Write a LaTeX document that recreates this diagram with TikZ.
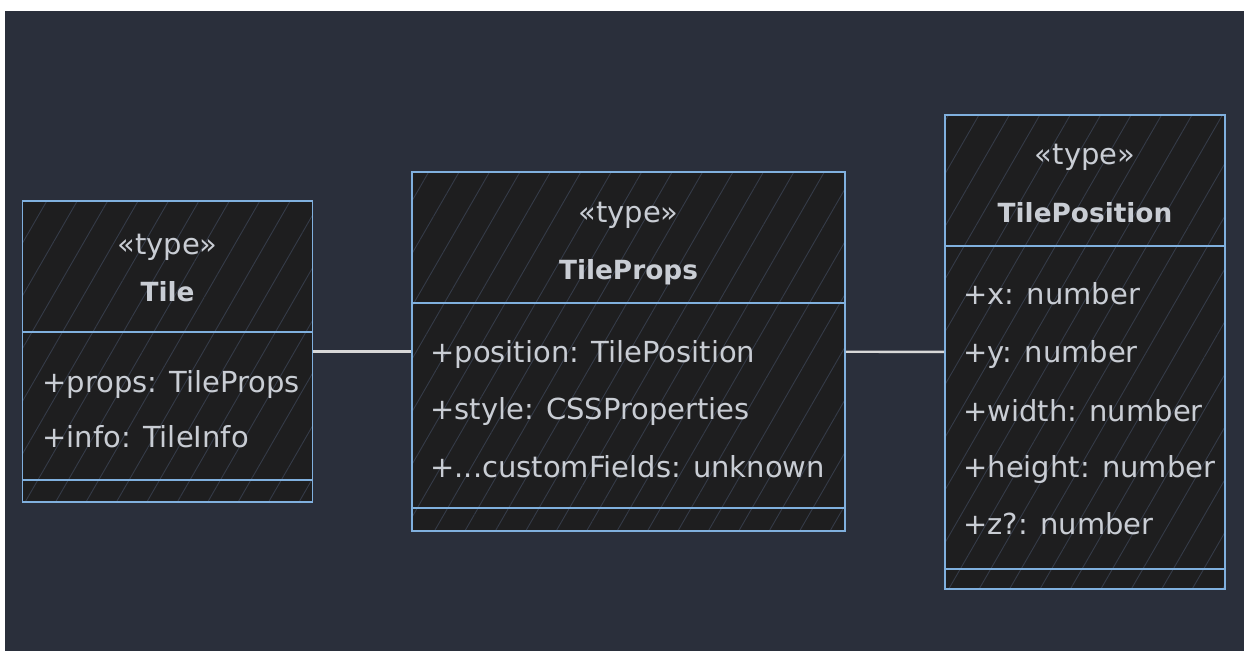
\documentclass[tikz,border=0pt]{standalone}
\usepackage{fontspec}
\setmainfont{DejaVu Sans}
\usepackage{xcolor}
\definecolor{cBg}{HTML}{2A2F3B}
\definecolor{cBox}{HTML}{1E1E1F}
\definecolor{cLine}{HTML}{80B0DE}
\definecolor{cText}{HTML}{C9CDD4}
\definecolor{cHatch}{HTML}{353B48}
\definecolor{cLink}{HTML}{D8D8D8}
\usetikzlibrary{positioning,patterns.meta,calc}
\tikzset{
  class-box/.style={draw=cLine,line width=1.1pt,inner sep=0pt,
    preaction={fill=cBox},
    pattern={Lines[angle=60,distance=15pt,line width=0.5pt]},pattern color=cHatch},
  class-stereo/.style={text=cText,font=\fontsize{16.5}{19}\selectfont,anchor=base},
  class-name/.style={text=cText,font=\fontsize{15}{18}\selectfont\bfseries,anchor=base},
  class-member/.style={text=cText,font=\fontsize{16.5}{19}\selectfont,anchor=base west,inner sep=0pt},
  compart/.style={draw=cLine,line width=1.1pt},
  link/.style={draw=cLink,line width=1.4pt},
}
\begin{document}
\begin{tikzpicture}[x=0.02cm,y=-0.02cm]
  \useasboundingbox (0,0) rectangle (1244,651);
  \fill[white] (0,0) rectangle (1244,651);
  \fill[cBg] (5,11) rectangle (1244,651);

  % class boxes
  \node[class-box,minimum width=5.8cm,minimum height=6.02cm] (tile) at (167.5,351.5) {};
  \node[class-box,minimum width=8.66cm,minimum height=7.18cm] (props) at (628.5,351.5) {};
  \node[class-box,minimum width=5.6cm,minimum height=9.48cm] (pos) at (1085,352) {};

  % compartments
  \draw[compart] (23,332) -- (312,332);
  \draw[compart] (23,480) -- (312,480);
  \draw[compart] (412,303) -- (845,303);
  \draw[compart] (412,508) -- (845,508);
  \draw[compart] (945,246) -- (1225,246);
  \draw[compart] (945,569) -- (1225,569);

  % Tile
  \node[class-stereo] (tile-st) at (167.5,255) {«type»};
  \node[class-name] (tile-nm) at (167.5,302) {Tile};
  \node[class-member] (tile-m1) at (42,393) {+props: TileProps};
  \node[class-member] (tile-m2) at (42,448) {+info: TileInfo};

  % TileProps
  \node[class-stereo] (props-st) at (628.5,223) {«type»};
  \node[class-name] (props-nm) at (628.5,280) {TileProps};
  \node[class-member] (props-m1) at (430,363) {+position: TilePosition};
  \node[class-member] (props-m2) at (430,420) {+style: CSSProperties};
  \node[class-member] (props-m3) at (430,478) {+...customFields: unknown};

  % TilePosition
  \node[class-stereo] (pos-st) at (1085,165) {«type»};
  \node[class-name] (pos-nm) at (1085,223) {TilePosition};
  \node[class-member] (pos-m1) at (963,305) {+x: number};
  \node[class-member] (pos-m2) at (963,363) {+y: number};
  \node[class-member] (pos-m3) at (963,422) {+width: number};
  \node[class-member] (pos-m4) at (963,478) {+height: number};
  \node[class-member] (pos-m5) at (963,535) {+z?: number};

  % links
  \draw[link] (tile) -- (props);
  \draw[link] (props) -- (pos);
\end{tikzpicture}
\end{document}
